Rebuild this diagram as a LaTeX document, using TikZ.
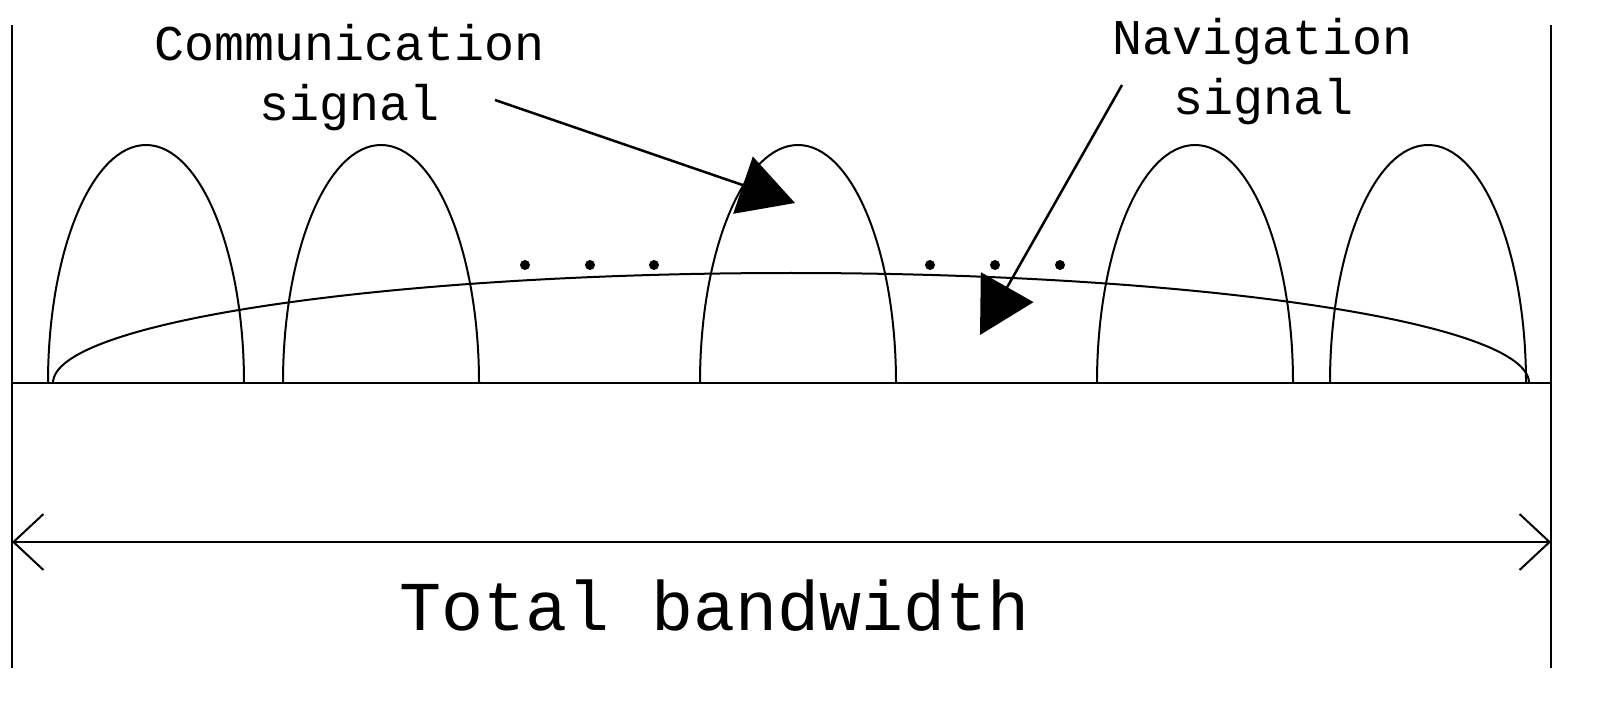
\documentclass[tikz,border=0pt]{standalone}
\usepackage{fontspec}
\setmainfont{Liberation Mono}
\usetikzlibrary{arrows.meta, positioning}
\begin{document}
\begin{tikzpicture}[x=1pt, y=-1pt, line width=2pt,
		label text/.style={font=\fontsize{50}{60}\selectfont, align=center, inner sep=0pt},
		pointer/.style={line width=2.5pt, -{Triangle[length=55pt, width=60pt]}},
		bump/.style={line width=2pt}
		]
		\useasboundingbox (0,0) rectangle (1622,703);
		% frame lines
		\draw (12,25) -- (12,668);
		\draw (1551,25) -- (1551,668);
		\draw (12,383) -- (1551,383);
		% communication signals
		\foreach \xs in {48,283,700,1097,1330}
		\draw[bump] (\xs,383) arc[start angle=180, end angle=360, x radius=98, y radius=238];
		% navigation signal
		\draw[bump] (53,383) arc[start angle=180, end angle=360, x radius=738, y radius=110];
		% dots
		\foreach \xd in {525,590,654,930,995,1060}
		\fill (\xd,265) circle (5);
		% labels
		\node[label text] (comm) at (350,78) {Communication\\signal};
		\node[label text] (navi) at (1263,72) {Navigation\\signal};
		\coordinate (commtip) at (795,203);
		\coordinate (navitip) at (980,335);
		\draw[pointer] (495,100) -- (commtip);
		\draw[pointer] (1122,85) -- (navitip);
		% total bandwidth
		\coordinate (bwl) at (12,542);
		\coordinate (bwr) at (1551,542);
		\draw[{Straight Barb[length=30pt, width=56pt]}-{Straight Barb[length=30pt, width=56pt]}] (bwl) -- (bwr);
		\node[font=\fontsize{70}{80}\selectfont, inner sep=0pt] (bw) at (715,606) {Total bandwidth};
	\end{tikzpicture}
\end{document}
